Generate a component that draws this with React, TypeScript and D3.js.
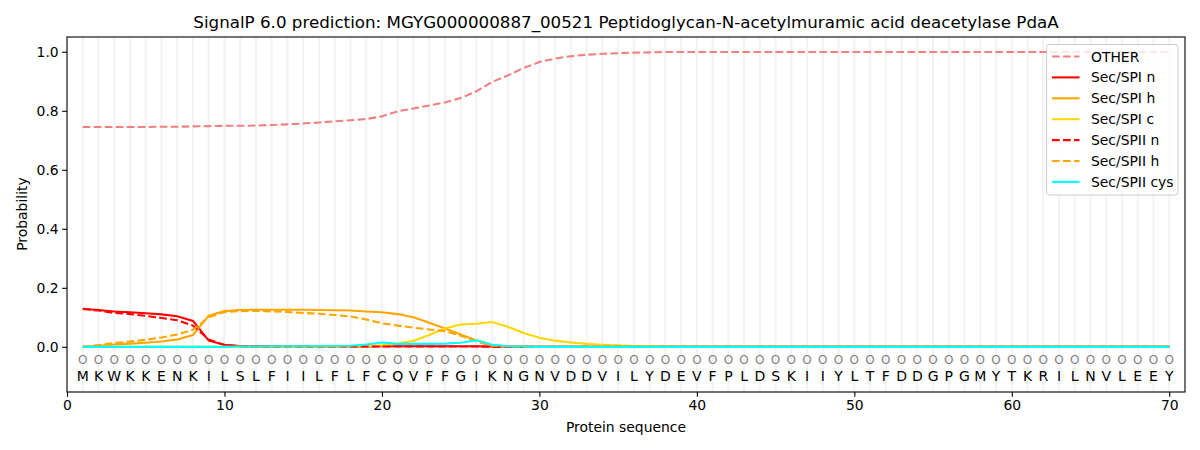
import React, { useEffect, useRef } from 'react';
import * as d3 from 'd3';

const sequence = 'MKWKKENKILSLFIILFLFCQVFFGIKNGNVDDVILYDEVFPLDSKIIYLTFDDGPGMYTKRILNVLEEY'.split('');

const other = [
  0.745, 0.745, 0.745, 0.745, 0.745, 0.746, 0.746, 0.747, 0.748, 0.749,
  0.749, 0.750, 0.752, 0.754, 0.757, 0.760, 0.764, 0.768, 0.772, 0.781,
  0.798, 0.808, 0.818, 0.828, 0.843, 0.866, 0.898, 0.920, 0.945, 0.965,
  0.977, 0.985, 0.990, 0.993, 0.995, 0.997, 0.998, 0.999, 0.999, 0.999,
  0.999, 0.999, 0.999, 0.999, 0.999, 0.999, 0.999, 0.999, 0.999, 0.999,
  0.999, 0.999, 0.999, 0.999, 0.999, 0.999, 0.999, 0.999, 0.999, 0.999,
  0.999, 0.999, 0.999, 0.999, 0.999, 0.999, 0.999, 0.999, 0.999, 0.999,
];

const spiN = [
  0.129, 0.125, 0.120, 0.117, 0.114, 0.110, 0.104, 0.088, 0.021, 0.007,
  0.003, 0.002, 0.002, 0.001, 0.001, 0.001, 0.001, 0.001, 0.001, 0.002,
  0.002, 0.002, 0.002, 0.002, 0.002, 0.002, 0.001, 0.001, 0.000, 0.000,
];

const spiH = [
  0.000, 0.004, 0.008, 0.011, 0.014, 0.018, 0.025, 0.040, 0.106, 0.121,
  0.125, 0.126, 0.126, 0.126, 0.126, 0.125, 0.124, 0.123, 0.120, 0.117,
  0.111, 0.100, 0.082, 0.062, 0.042, 0.022, 0.006, 0.002, 0.001, 0.000,
];

const spiC = [
  0.000, 0.000, 0.000, 0.000, 0.000, 0.000, 0.000, 0.000, 0.000, 0.000,
  0.000, 0.000, 0.000, 0.000, 0.000, 0.000, 0.000, 0.001, 0.002, 0.005,
  0.011, 0.020, 0.040, 0.062, 0.076, 0.078, 0.084, 0.068, 0.047, 0.031,
  0.021, 0.015, 0.010, 0.007, 0.005, 0.003, 0.002, 0.001, 0.001, 0.000,
];

const spiiN = [
  0.128, 0.123, 0.115, 0.111, 0.105, 0.098, 0.090, 0.072, 0.025, 0.006,
  0.002, 0.001, 0.001, 0.001, 0.001, 0.001, 0.001, 0.001, 0.001, 0.001,
  0.001, 0.001, 0.001, 0.001, 0.001, 0.001, 0.000, 0.000, 0.000, 0.000,
];

const spiiH = [
  0.000, 0.006, 0.013, 0.018, 0.024, 0.032, 0.042, 0.058, 0.100, 0.118,
  0.121, 0.122, 0.120, 0.118, 0.115, 0.112, 0.108, 0.103, 0.093, 0.080,
  0.072, 0.065, 0.059, 0.053, 0.038, 0.018, 0.004, 0.001, 0.000, 0.000,
];

const spiiCys = [
  0.000, 0.000, 0.000, 0.000, 0.000, 0.000, 0.000, 0.000, 0.000, 0.000,
  0.001, 0.001, 0.002, 0.002, 0.002, 0.003, 0.003, 0.004, 0.008, 0.015,
  0.010, 0.010, 0.010, 0.011, 0.014, 0.022, 0.007, 0.002, 0.001, 0.000,
];

const xTicks = [0, 10, 20, 30, 40, 50, 60, 70];
const yTicks = [0, 0.2, 0.4, 0.6, 0.8, 1.0];

const title = 'SignalP 6.0 prediction: MGYG000000887_00521 Peptidoglycan-N-acetylmuramic acid deacetylase PdaA';

interface Series {
  name: string;
  values: number[];
  color: string;
  dashed: boolean;
}

const series: Series[] = [
  { name: 'OTHER', values: other, color: '#f08080', dashed: true },
  { name: 'Sec/SPI n', values: spiN, color: '#ff0000', dashed: false },
  { name: 'Sec/SPI h', values: spiH, color: '#ffa500', dashed: false },
  { name: 'Sec/SPI c', values: spiC, color: '#ffd700', dashed: false },
  { name: 'Sec/SPII n', values: spiiN, color: '#ff0000', dashed: true },
  { name: 'Sec/SPII h', values: spiiH, color: '#ffa500', dashed: true },
  { name: 'Sec/SPII cys', values: spiiCys, color: '#00ffff', dashed: false },
];

const FONT = 'DejaVu Sans, sans-serif';
const LW = 2.08;
const DASH = '7.7,3.3';

const SignalPChart: React.FC = () => {
  const svgRef = useRef<SVGSVGElement>(null);

  useEffect(() => {
    if (!svgRef.current) return;
    document.body.style.margin = '0';

    const W = 1200;
    const H = 450;
    const margin = { top: 37, right: 15, bottom: 58, left: 67 };
    const width = W - margin.left - margin.right;
    const height = H - margin.top - margin.bottom;

    const svg = d3.select(svgRef.current);
    svg.selectAll('*').remove();
    svg.attr('width', W).attr('height', H).style('font-family', FONT);

    svg.append('rect').attr('width', W).attr('height', H).attr('fill', '#fff');

    const g = svg.append('g').attr('transform', `translate(${margin.left},${margin.top})`);

    const x = d3.scaleLinear().domain([0, 71]).range([0, width]);
    const y = d3.scaleLinear().domain([-0.153, 1.05]).range([height, 0]);

    const positions = sequence.map((_, i) => i + 1);

    // light vertical grid, one per residue
    g.selectAll('.grid')
      .data(positions)
      .enter()
      .append('line')
      .attr('x1', d => x(d))
      .attr('x2', d => x(d))
      .attr('y1', 0)
      .attr('y2', height)
      .attr('stroke', '#f2f2f2')
      .attr('stroke-width', 2);

    // residue markers and letters
    g.selectAll('.circ')
      .data(positions)
      .enter()
      .append('text')
      .attr('x', d => x(d))
      .attr('y', y(-0.045))
      .attr('text-anchor', 'middle')
      .attr('dominant-baseline', 'central')
      .attr('font-size', 12)
      .attr('fill', '#808080')
      .text('O');

    g.selectAll('.aa')
      .data(positions)
      .enter()
      .append('text')
      .attr('x', d => x(d))
      .attr('y', y(-0.1))
      .attr('text-anchor', 'middle')
      .attr('dominant-baseline', 'central')
      .attr('font-size', 14)
      .attr('fill', '#000')
      .text(d => sequence[d - 1]);

    const line = d3
      .line<number>()
      .x((_d, i) => x(i + 1))
      .y(d => y(d));

    series.forEach(s => {
      const vals = positions.map(p => (p - 1 < s.values.length ? s.values[p - 1] : 0));
      g.append('path')
        .datum(vals)
        .attr('fill', 'none')
        .attr('stroke', s.color)
        .attr('stroke-width', LW)
        .attr('stroke-dasharray', s.dashed ? DASH : null)
        .attr('d', line);
    });

    // axes
    const xAxis = g
      .append('g')
      .attr('transform', `translate(0,${height})`)
      .call(d3.axisBottom(x).tickValues(xTicks).tickSize(4.86).tickPadding(3.5).tickFormat(d3.format('d')));
    const yAxis = g
      .append('g')
      .call(d3.axisLeft(y).tickValues(yTicks).tickSize(4.86).tickPadding(3.5).tickFormat(d3.format('.1f')));

    [xAxis, yAxis].forEach(a => {
      a.select('.domain').remove();
      a.selectAll('text').attr('font-size', 13.9).attr('font-family', FONT).attr('fill', '#000');
      a.selectAll('line').attr('stroke', '#000').attr('stroke-width', 1.1);
    });

    g.append('rect')
      .attr('width', width)
      .attr('height', height)
      .attr('fill', 'none')
      .attr('stroke', '#000')
      .attr('stroke-width', 1.1);

    // labels
    svg.append('text')
      .attr('x', margin.left + width / 2)
      .attr('y', 28)
      .attr('text-anchor', 'middle')
      .attr('font-size', 16.7)
      .text(title);

    svg.append('text')
      .attr('x', margin.left + width / 2)
      .attr('y', 432)
      .attr('text-anchor', 'middle')
      .attr('font-size', 13.9)
      .text('Protein sequence');

    svg.append('text')
      .attr('transform', `translate(27,${margin.top + y(0.45)}) rotate(-90)`)
      .attr('text-anchor', 'middle')
      .attr('font-size', 13.9)
      .text('Probability');

    // legend
    const lg = svg.append('g').attr('transform', 'translate(1046.5,44.5)');
    lg.append('rect')
      .attr('width', 131.5)
      .attr('height', 150.5)
      .attr('rx', 3)
      .attr('fill', 'rgba(255,255,255,0.8)')
      .attr('stroke', '#cccccc')
      .attr('stroke-width', 1);

    series.forEach((s, i) => {
      const cy = 12 + i * 20.9;
      lg.append('line')
        .attr('x1', 5.5)
        .attr('x2', 33)
        .attr('y1', cy)
        .attr('y2', cy)
        .attr('stroke', s.color)
        .attr('stroke-width', LW)
        .attr('stroke-dasharray', s.dashed ? DASH : null);
      lg.append('text')
        .attr('x', 44.5)
        .attr('y', cy)
        .attr('dominant-baseline', 'central')
        .attr('font-size', 13.9)
        .text(s.name);
    });
  }, []);

  return <svg ref={svgRef}></svg>;
};

export default function App() {
  return <SignalPChart />;
}
